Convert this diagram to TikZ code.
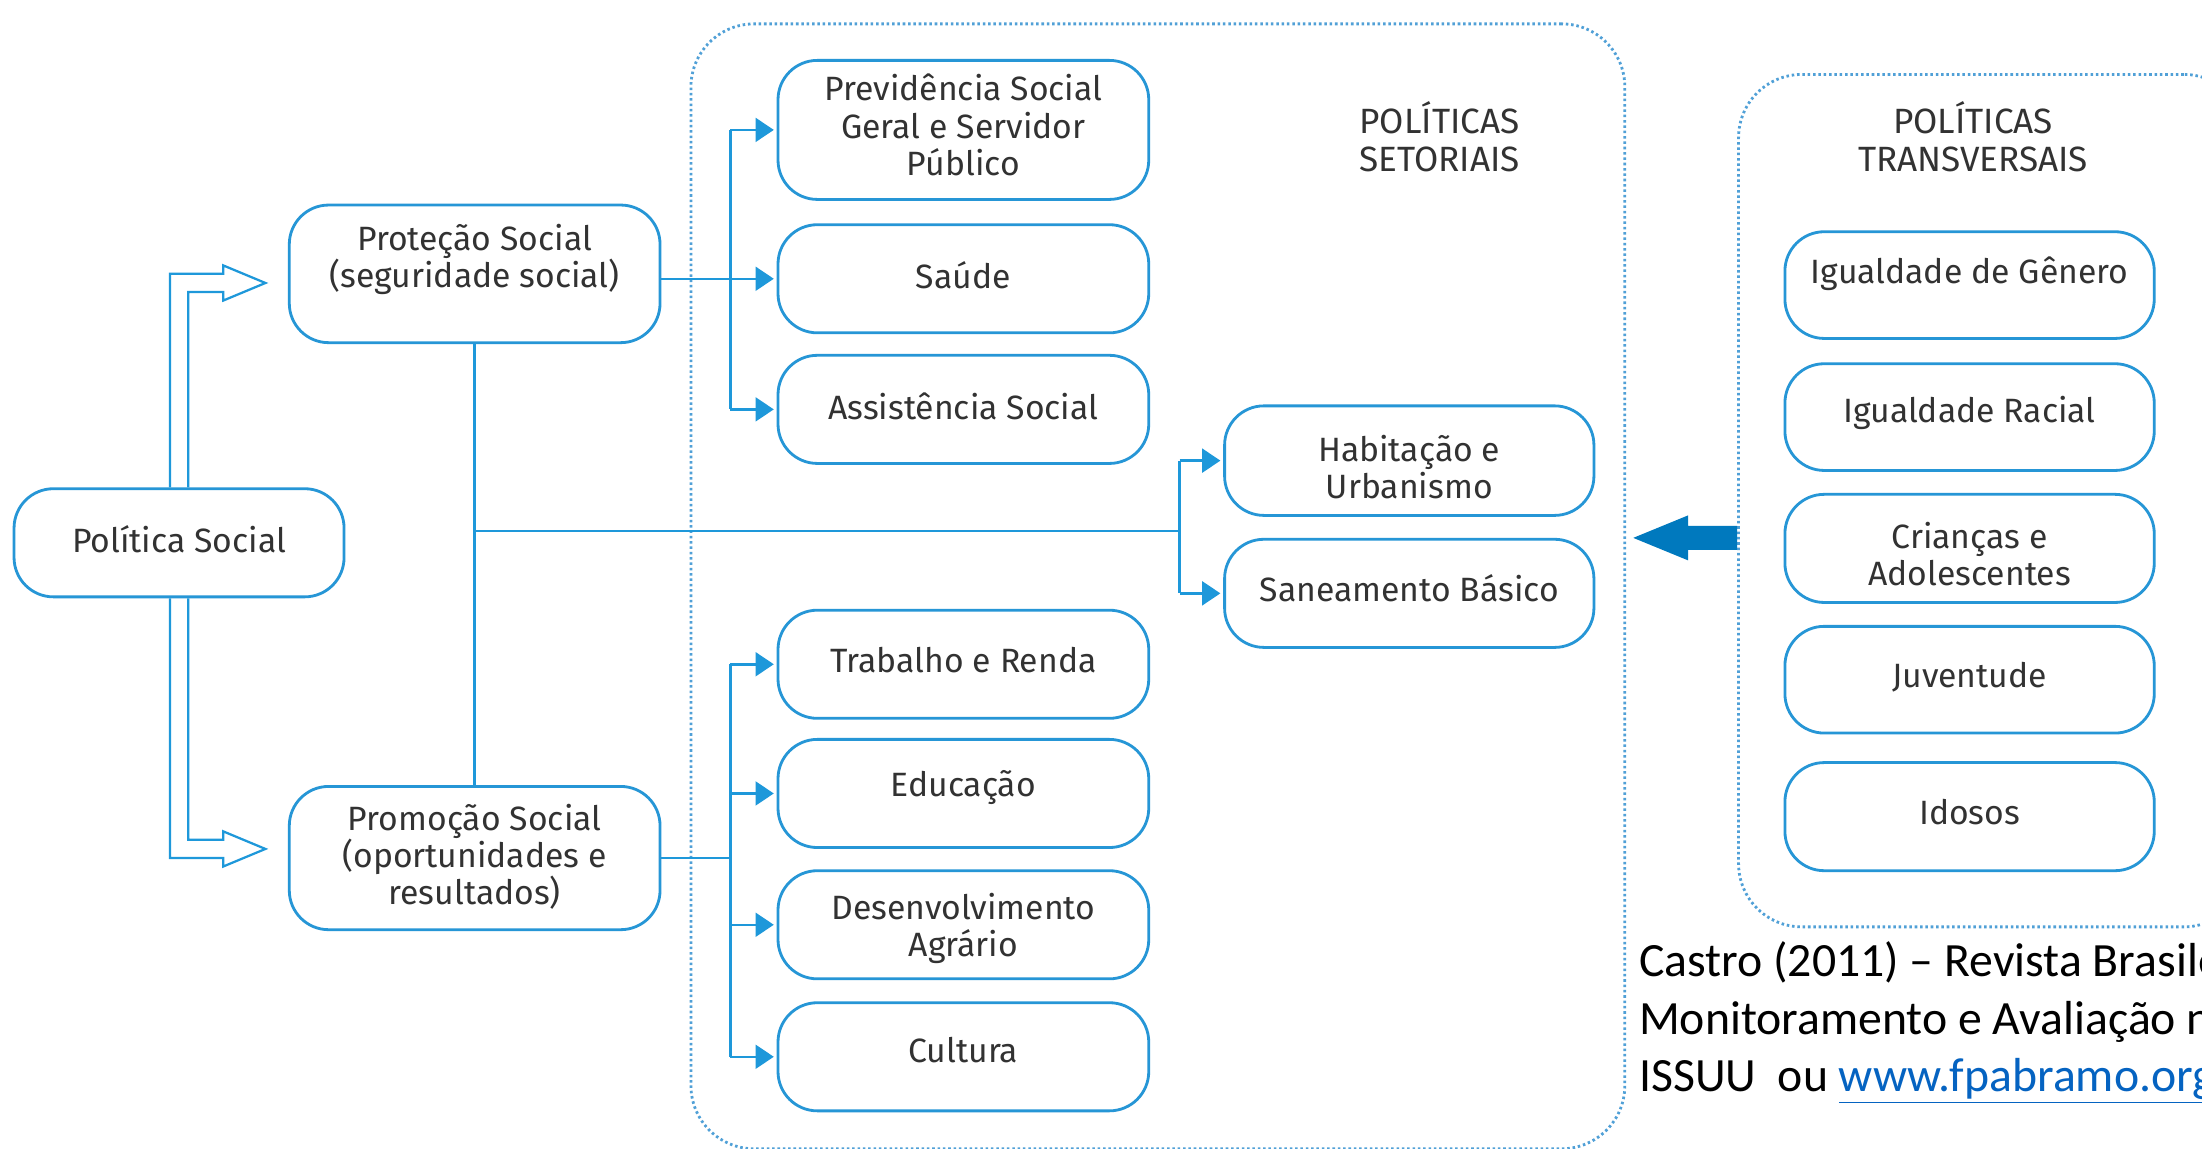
\documentclass[tikz,border=0pt]{standalone}
\usepackage{fontspec}
\setmainfont{Fira Sans}
\newfontfamily\capfont{Carlito}
\usetikzlibrary{arrows.meta,calc}
\definecolor{boxc}{RGB}{38,150,214}
\definecolor{linec}{RGB}{30,152,218}
\definecolor{dotc}{RGB}{80,160,215}
\definecolor{bigc}{RGB}{0,121,190}
\definecolor{txtc}{RGB}{50,50,50}
\definecolor{urlc}{RGB}{5,99,193}
\newcommand\bx[7]{%
  \node[box, minimum width=#4pt, minimum height=#5pt] (#1) at (#2,#3) {};
  \node[txt] (#1-t) at (#2,#6) {#7};}
\begin{document}
\begin{tikzpicture}[x=1pt,y=-1pt,
  box/.style={draw=boxc, fill=white, line width=2pt, rounded corners=28pt, inner sep=0pt},
  txt/.style={text=txtc, font=\fontsize{24}{26.5}\selectfont, align=center, inner sep=0pt},
  ttl/.style={text=txtc, font=\fontsize{25}{27}\selectfont, align=center, inner sep=0pt},
  conn/.style={draw=linec, line width=1.8pt},
  arr/.style={conn, -{Triangle[length=13pt,width=17pt]}, shorten >=2pt},
  cont/.style={draw=dotc, line width=2pt, dash pattern=on 1.8pt off 2pt, rounded corners=45pt, inner sep=0pt},
  hollow/.style={draw=linec, line width=1.6pt, line join=miter}
]
\useasboundingbox (0,0) rectangle (1568,817.5);
\clip (0,0) rectangle (1568,817.5);
\fill[white] (0,0) rectangle (1568,817.5);

% containers
\node[cont, minimum width=665pt, minimum height=801pt] (set) at (824.5,417.5) {};
\node[cont, minimum width=362pt, minimum height=607pt] (trv) at (1419,356.5) {};
\node[ttl] (set-t) at (1025,97.5) {POLÍTICAS\\SETORIAIS};
\node[ttl] (trv-t) at (1405,97.5) {POLÍTICAS\\TRANSVERSAIS};

% left boxes
\bx{pol}{127.5}{386.5}{235}{77}{384}{Política Social}
\bx{pro}{338}{195}{264}{98}{185}{Proteção Social\\(seguridade social)}
\bx{prm}{338}{611}{264}{102}{610}{Promoção Social\\(oportunidades e\\resultados)}

% setoriais boxes
\bx{prev}{686}{92.5}{264}{99}{89}{Previdência Social\\Geral e Servidor\\Público}
\bx{sau}{686}{198.5}{264}{77}{196}{Saúde}
\bx{ass}{686}{291.5}{264}{77}{289}{Assistência Social}
\bx{trab}{686}{473}{264}{77}{470}{Trabalho e Renda}
\bx{edu}{686}{565}{264}{77}{561}{Educação}
\bx{des}{686}{658.5}{264}{77}{661}{Desenvolvimento\\Agrário}
\bx{cul}{686}{752.5}{264}{77}{748}{Cultura}
\bx{hab}{1003.5}{328}{263}{78}{332.5}{Habitação e\\Urbanismo}
\bx{san}{1003.5}{422.5}{263}{77}{419}{Saneamento Básico}

% transversais boxes
\bx{igg}{1402.5}{203}{263}{76}{195}{Igualdade de Gênero}
\bx{igr}{1402.5}{297}{263}{76}{294}{Igualdade Racial}
\bx{cri}{1402.5}{390.5}{263}{77}{394.5}{Crianças e\\Adolescentes}
\bx{juv}{1402.5}{484}{263}{76}{482}{Juventude}
\bx{ido}{1402.5}{581.5}{263}{77}{578}{Idosos}

% hollow arrows
\draw[hollow] ($(pol.north)+(-6.5,0)$) |- ($(pro.west)+(-46,0)$) -- ($(pro.west)+(-46,-6)$)
  -- ($(pro.west)+(-16,6.5)$) -- ($(pro.west)+(-46,19)$) -- ($(pro.west)+(-46,13)$)
  -| ($(pol.north)+(6.5,0)$);
\draw[hollow] ($(pol.south)+(-6.5,0)$) |- ($(prm.west)+(-46,0)$) -- ($(prm.west)+(-46,6)$)
  -- ($(prm.west)+(-16,-6.5)$) -- ($(prm.west)+(-46,-19)$) -- ($(prm.west)+(-46,-13)$)
  -| ($(pol.south)+(6.5,0)$);

% buses
\coordinate (bus) at (520,0);
\coordinate (mid) at (840,378);
\draw[conn] (bus |- prev.west) -- (bus |- ass.west);
\draw[conn] (pro.east |- sau.west) -- (bus |- sau.west);
\draw[arr] (bus |- prev.west) -- (prev.west);
\draw[arr] (bus |- sau.west) -- (sau.west);
\draw[arr] (bus |- ass.west) -- (ass.west);

\draw[conn] (bus |- trab.west) -- (bus |- cul.west);
\draw[conn] (prm.east) -- (bus |- prm.east);
\draw[arr] (bus |- trab.west) -- (trab.west);
\draw[arr] (bus |- edu.west) -- (edu.west);
\draw[arr] (bus |- des.west) -- (des.west);
\draw[arr] (bus |- cul.west) -- (cul.west);

\draw[conn] (pro.south) -- (prm.north);
\draw[conn] (pro.south |- mid) -- (mid);
\draw[conn] (mid |- hab.west) -- (mid |- san.west);
\draw[arr] (mid |- hab.west) -- (hab.west);
\draw[arr] (mid |- san.west) -- (san.west);

% big arrow
\coordinate (bigtail) at (trv.west |- 0,383);
\fill[bigc] (bigtail) ++(0,-8.5) -- ++(-35,0) -- ++(0,-7.5) -- ++(-39,16) -- ++(39,16) -- ++(0,-7.5) -- ++(35,0) -- cycle;

% caption
\node[anchor=west, align=left, inner sep=0pt, font=\capfont\fontsize{34}{41}\selectfont] (cap) at (1167,728)
  {Castro (2011) – Revista Brasile\\Monitoramento e Avaliação n\\ISSUU\ \ ou \textcolor{urlc}{\underline{www.fpabramo.org}}};
\end{tikzpicture}
\end{document}
